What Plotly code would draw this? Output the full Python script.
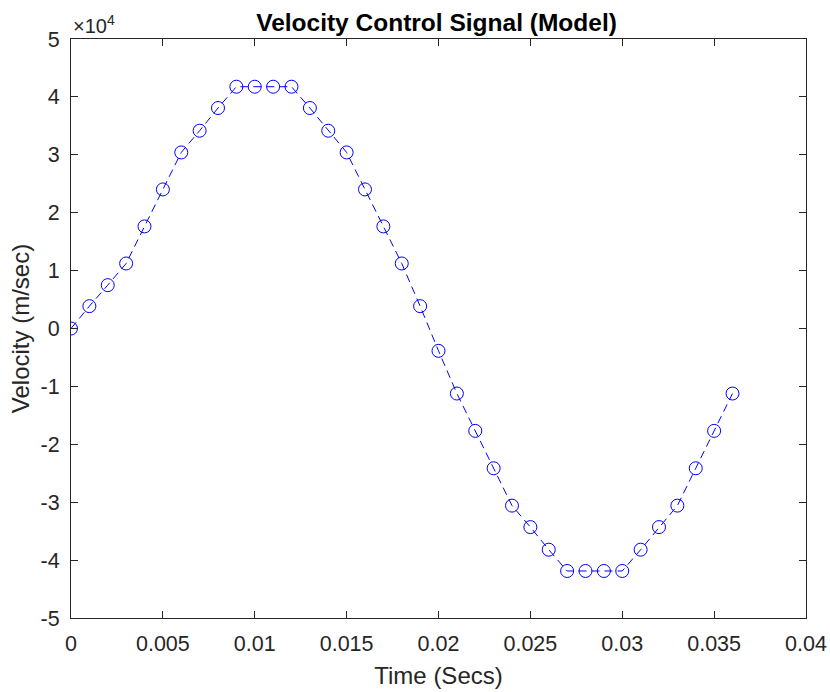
import plotly.graph_objects as go

time_s = [0.000, 0.001, 0.002, 0.003, 0.004, 0.005, 0.006, 0.007, 0.008, 0.009,
          0.010, 0.011, 0.012, 0.013, 0.014, 0.015, 0.016, 0.017, 0.018, 0.019,
          0.020, 0.021, 0.022, 0.023, 0.024, 0.025, 0.026, 0.027, 0.028, 0.029,
          0.030, 0.031, 0.032, 0.033, 0.034, 0.035, 0.036]
velocity = [0, 3860, 7490, 11230, 17630, 24020, 30410, 34160, 38080, 41760,
            41760, 41760, 41760, 38080, 34160, 30410, 24020, 17630, 11230, 3860,
            -3860, -11230, -17680, -24140, -30590, -34300, -38200, -41880, -41880, -41880,
            -41880, -38200, -34300, -30590, -24140, -17680, -11230]

x_ticks = [0, 0.005, 0.01, 0.015, 0.02, 0.025, 0.03, 0.035, 0.04]
x_labels = ["0", "0.005", "0.01", "0.015", "0.02", "0.025", "0.03", "0.035", "0.04"]
y_ticks = [-50000, -40000, -30000, -20000, -10000, 0, 10000, 20000, 30000, 40000, 50000]
y_labels = ["-5", "-4", "-3", "-2", "-1", "0", "1", "2", "3", "4", "5"]

FONT = "Liberation Sans, Arial, Helvetica, sans-serif"
AX = "#262626"

W, H = 830, 692

fig = go.Figure()
fig.add_trace(go.Scatter(
    x=time_s, y=velocity, mode="lines+markers",
    line=dict(color="#0000ff", width=1, dash="8px,5px"),
    marker=dict(symbol="circle-open", size=13, color="#0000ff", line=dict(width=1, color="#0000ff")),
    showlegend=False,
))

axis_common = dict(
    showline=True, linecolor=AX, linewidth=1, mirror="ticks",
    ticks="inside", ticklen=7, tickcolor=AX, tickwidth=1,
    showgrid=False, zeroline=False, automargin=False,
    tickfont=dict(family=FONT, size=21.5, color=AX),
)

fig.update_layout(
    width=W, height=H,
    margin=dict(l=71, r=24, t=39, b=74),
    paper_bgcolor="white", plot_bgcolor="white",
    font=dict(family=FONT, color=AX),
    title=dict(text="<b>Velocity Control Signal (Model)</b>", x=436.5 / W, xanchor="center",
               y=1 - 22 / H, yanchor="middle", automargin=False,
               font=dict(family=FONT, size=24.5, color="black")),
    xaxis=dict(range=[0, 0.04], tickvals=x_ticks, ticktext=x_labels, ticklabelstandoff=6,
               title=dict(text="Time (Secs)", font=dict(family=FONT, size=24, color=AX), standoff=12),
               **axis_common),
    yaxis=dict(range=[-50000, 50000], tickvals=y_ticks, ticktext=y_labels, ticklabelstandoff=6,
               title=dict(text="Velocity (m/sec)", font=dict(family=FONT, size=24, color=AX), standoff=4),
               **axis_common),
)
fig.add_annotation(text="\u00d710<sup>4</sup>", xref="paper", yref="paper", x=0, y=1,
                   xanchor="left", yanchor="bottom", showarrow=False, xshift=0, yshift=0,
                   font=dict(family=FONT, size=20, color=AX))

# Remove the browser's default page margin so the figure fills the window exactly.
fig.write_html("out.html", config={"displayModeBar": False},
               post_script="document.body.style.margin='0';document.body.style.overflow='hidden';")
